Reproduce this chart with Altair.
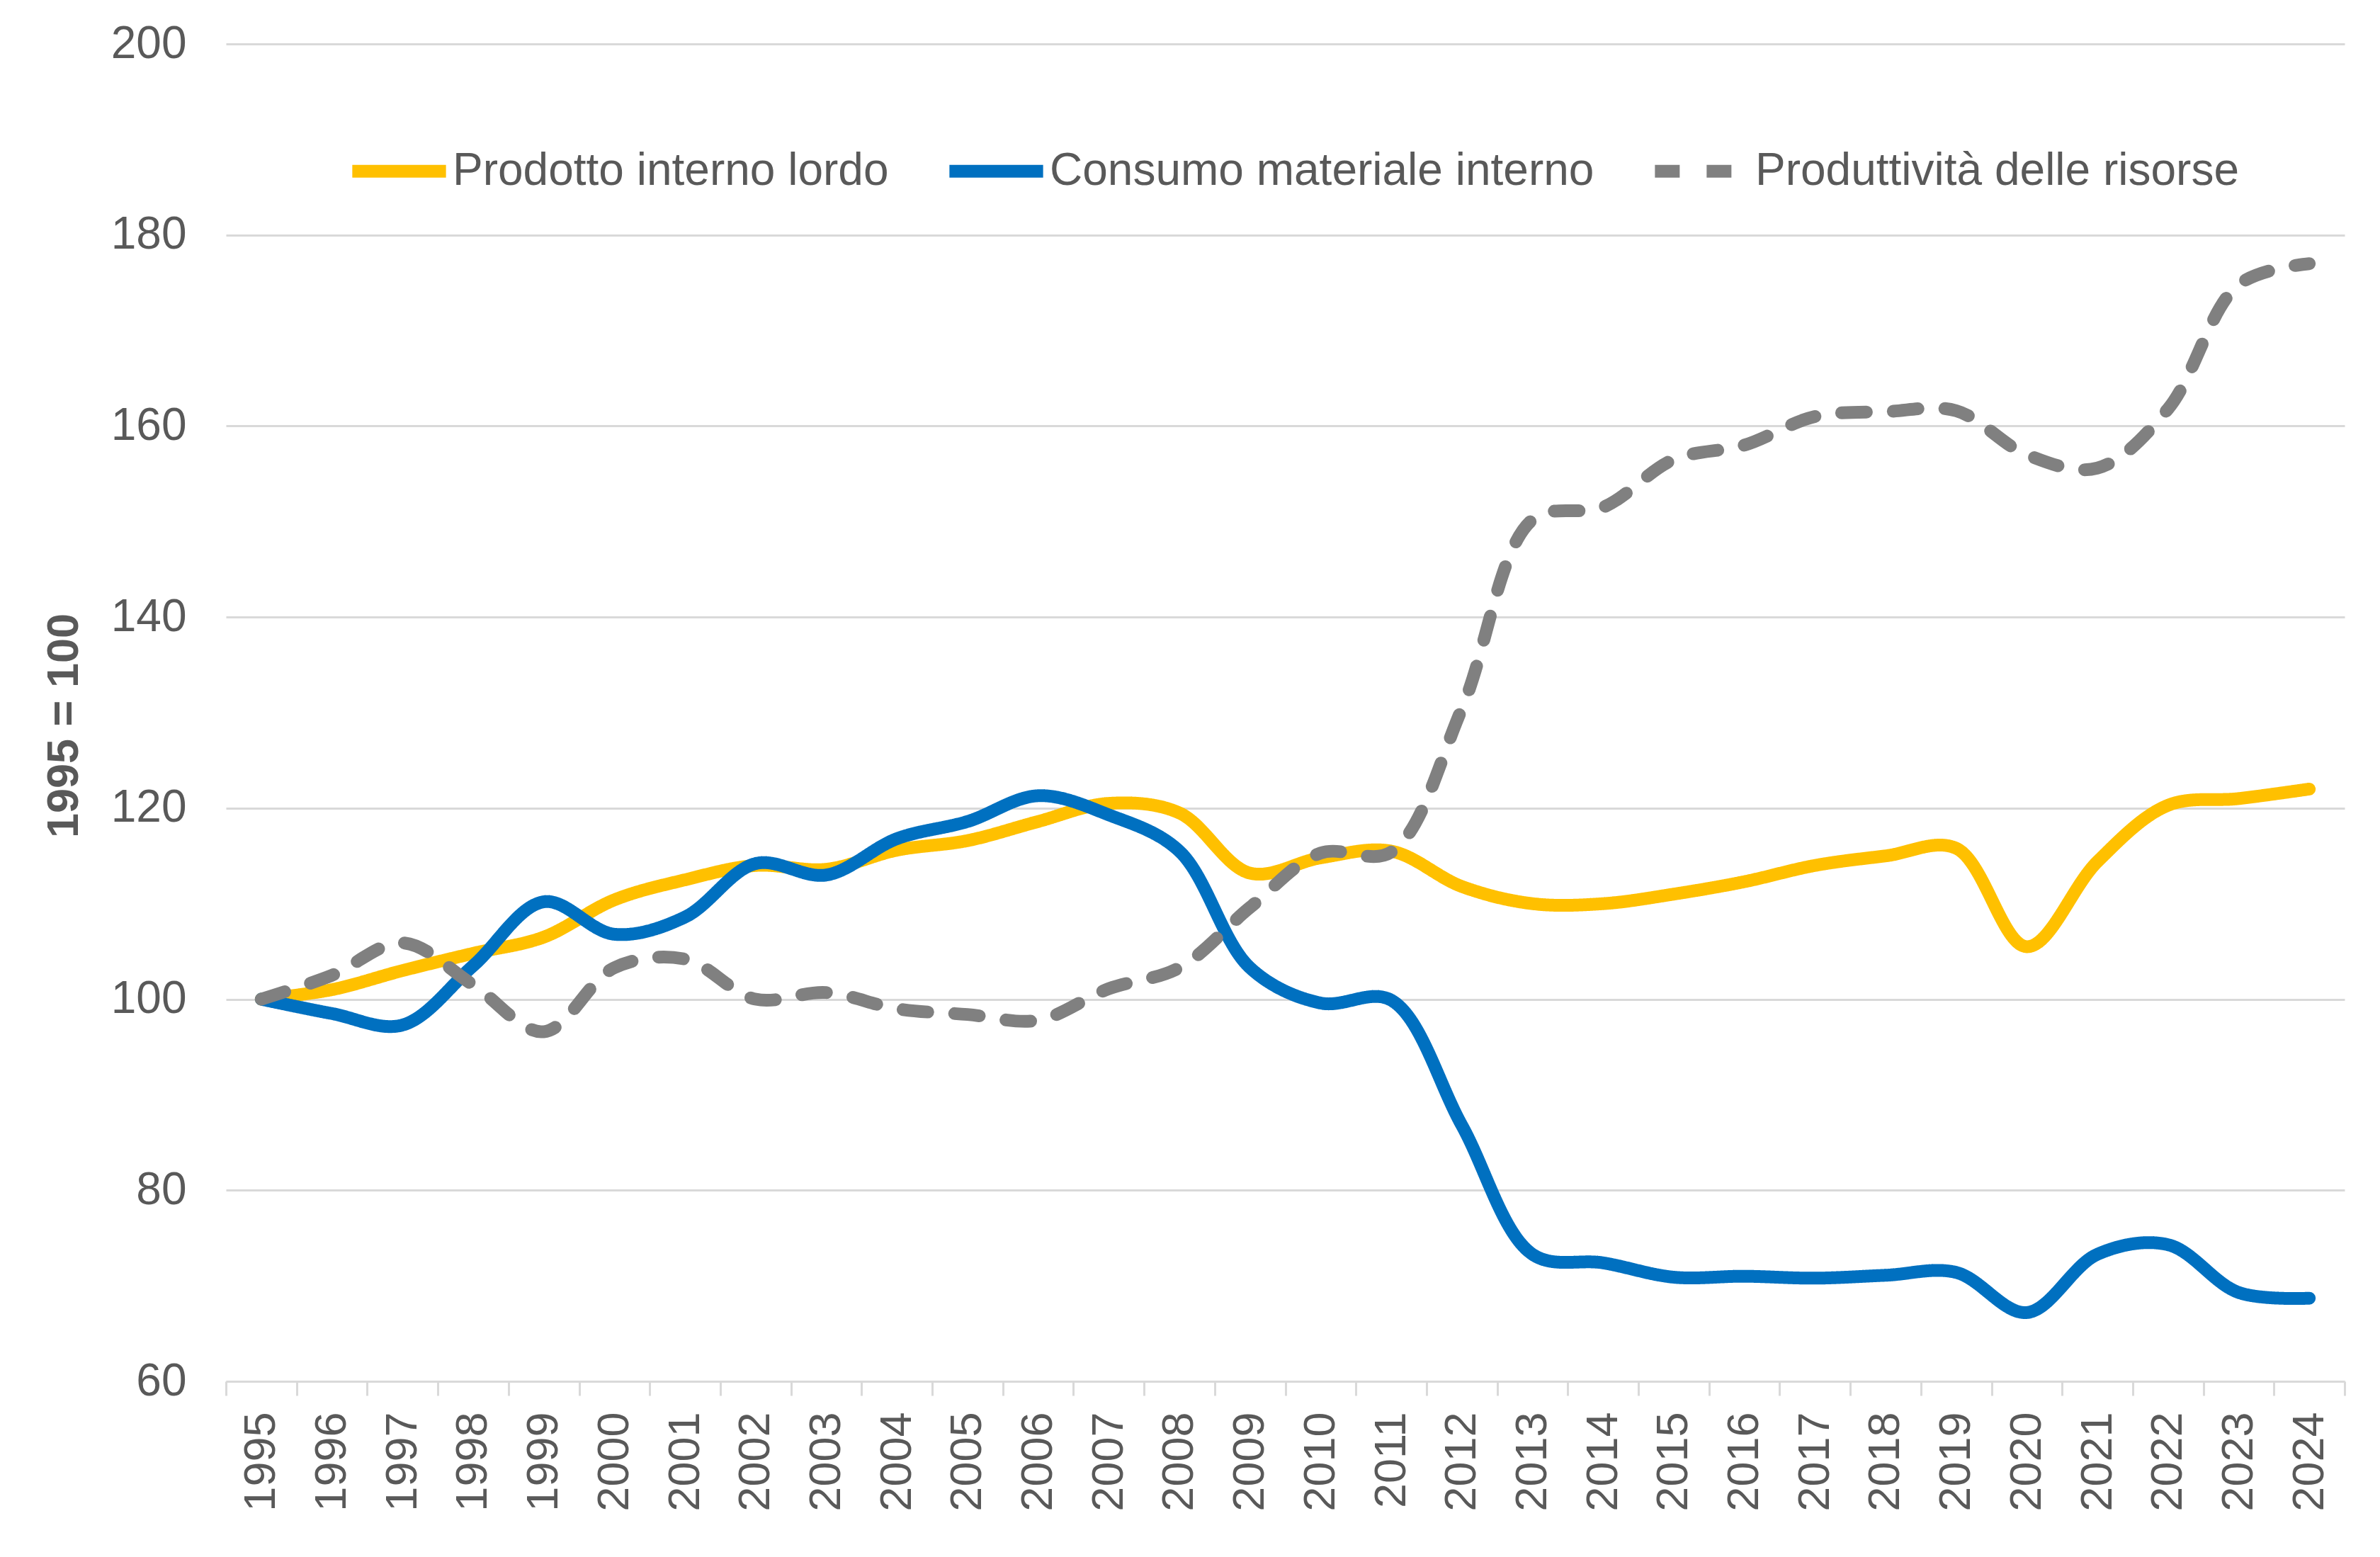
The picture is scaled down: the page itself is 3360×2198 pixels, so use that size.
import altair as alt
import pandas as pd

years = [str(y) for y in range(1995, 2025)]

series_names = ["Prodotto interno lordo", "Consumo materiale interno", "Produttività delle risorse"]

pil = [100, 101, 103, 104.8, 106.5, 110.4, 112.5, 114, 113.6, 115.6,
       116.6, 118.6, 120.5, 119.5, 113.2, 114.8, 115.5, 111.8, 110, 110,
       111, 112.3, 114, 115, 115.8, 105.5, 114.4, 120.3, 121, 122]

dmc = [100, 98.5, 97.3, 103.5, 110.2, 106.8, 108.6, 114.2, 113, 116.8,
       118.6, 121.3, 119.3, 115.5, 103.3, 99.6, 99.9, 86.8, 73.3, 72.4,
       70.9, 71, 70.8, 71.1, 71.4, 67.2, 73.3, 74.3, 69.3, 68.7]

prod = [100, 102.5, 105.9, 101.5, 96.6, 103.3, 104.2, 100, 100.7, 99,
        98.4, 97.8, 101.1, 103.3, 109.6, 115.3, 115.4, 130.4, 150.2, 151.5,
        156.5, 158, 161, 161.5, 161.6, 157, 155.6, 161.8, 174.8, 177]

colors = ["#FFC000", "#0070C0", "#808080"]
dashes = [[1, 0], [1, 0], [35, 38]]

rows = []
for name, vals in zip(series_names, [pil, dmc, prod]):
    for y, v in zip(years, vals):
        rows.append({"anno": y, "valore": v, "serie": name})
df = pd.DataFrame(rows)

FONT = "Liberation Sans"
TXT = "#595959"
GRID = "#D9D9D9"


def make_legend():
    return alt.Legend(
        title=None,
        orient="none",
        direction="horizontal",
        legendX=169,
        legendY=104,
        symbolType="stroke",
        symbolSize=17500,
        symbolStrokeWidth=18,
        labelFont=FONT,
        labelFontSize=64,
        labelColor=TXT,
        labelOffset=0,
        columnPadding=49,
        labelLimit=2000,
    )


chart = alt.Chart(df).mark_line(
    strokeWidth=18, interpolate="catmull-rom", strokeCap="round", strokeJoin="round"
).encode(
    x=alt.X(
        "anno:O",
        scale=alt.Scale(type="band", paddingInner=0, paddingOuter=0),
        bandPosition=0.5,
        sort=years,
        axis=alt.Axis(
            title=None,
            tickBand="extent",
            labelAngle=270,
            labelFontSize=63,
            labelFont=FONT,
            labelColor=TXT,
            labelPadding=23,
            domainColor=GRID,
            domainWidth=3,
            tickColor=GRID,
            tickWidth=3,
            tickSize=20,
            grid=False,
        ),
    ),
    y=alt.Y(
        "valore:Q",
        scale=alt.Scale(domain=[60, 200], nice=False, zero=False),
        axis=alt.Axis(
            title="1995 = 100",
            titleFont=FONT,
            titleFontSize=63,
            titleFontWeight="bold",
            titleColor=TXT,
            titleAngle=270,
            titleAlign="center",
            titleBaseline="middle",
            titleX=-229,
            titleY=962,
            values=[60, 80, 100, 120, 140, 160, 180, 200],
            labelFontSize=64,
            labelFont=FONT,
            labelColor=TXT,
            labelPadding=56,
            domain=False,
            ticks=False,
            grid=True,
            gridColor=GRID,
            gridWidth=3,
        ),
    ),
    color=alt.Color(
        "serie:N",
        scale=alt.Scale(domain=series_names, range=colors),
        legend=make_legend(),
    ),
    strokeDash=alt.StrokeDash(
        "serie:N",
        scale=alt.Scale(domain=series_names, range=dashes),
        legend=make_legend(),
    ),
).properties(
    width=2991,
    height=1888,
    background="white",
    autosize=alt.AutoSizeParams(type="none"),
    padding={"left": 311, "top": 54, "right": 42, "bottom": 240},
).configure_view(strokeWidth=0, stroke="transparent")

chart.save("out.html", embed_options={"renderer": "svg", "actions": False})
